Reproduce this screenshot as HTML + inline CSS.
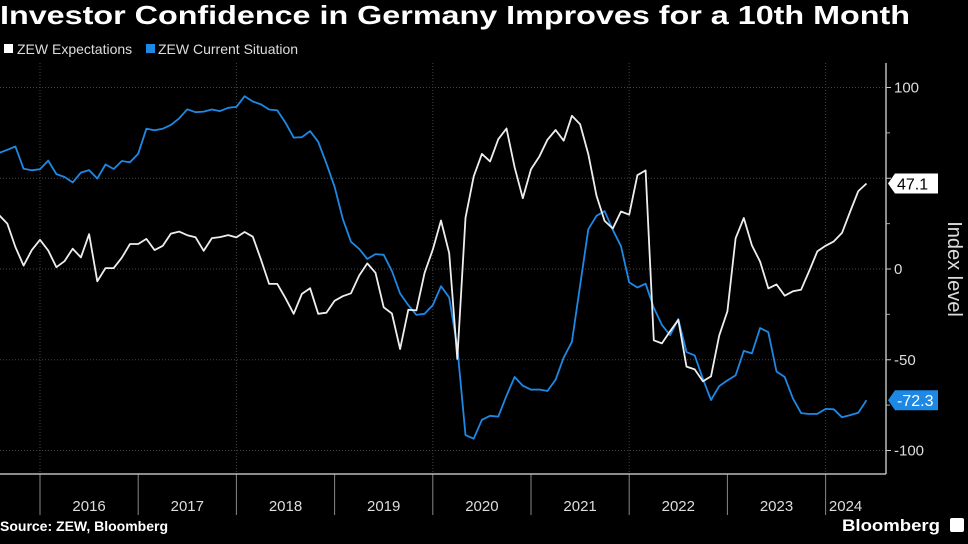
<!DOCTYPE html>
<html><head><meta charset="utf-8"><style>
html,body{margin:0;padding:0;background:#000;}
svg{display:block;font-family:"Liberation Sans",sans-serif;}
</style></head><body>
<svg id="chart" width="968" height="544" viewBox="0 0 968 544" xmlns="http://www.w3.org/2000/svg">
<rect width="968" height="544" fill="#000"/>
<text x="0" y="24" fill="#fff" font-size="26" font-weight="bold" textLength="910" lengthAdjust="spacingAndGlyphs">Investor Confidence in Germany Improves for a 10th Month</text>
<g>
<g><rect x="4" y="44" width="9" height="9" fill="#fff"/><text x="17" y="54" fill="#ddd" font-size="14">ZEW Expectations</text></g>
<g><rect x="146" y="44" width="9" height="9" fill="#1e88e5"/><text x="158" y="54" fill="#ddd" font-size="14">ZEW Current Situation</text></g>
</g>
<g id="grid"></g>
<g id="axes"></g>
<g id="series"></g>
<text x="0" y="531" fill="#fff" font-size="14" font-weight="bold">Source: ZEW, Bloomberg</text>
<text x="842" y="531" fill="#fff" font-size="17" font-weight="bold" textLength="98" lengthAdjust="spacingAndGlyphs">Bloomberg</text>
<rect x="950" y="518" width="14" height="14" rx="2" fill="#fff"/>
<text x="948" y="269" fill="#ddd" font-size="20" transform="rotate(90 948 269)" text-anchor="middle">Index level</text>
</svg>
<script>
const years = [2016,2017,2018,2019,2020,2021,2022,2023,2024];
const yTicks = [100,50,0,-50,-100];
const yMinor = [75,25,-25,-75];
// monthly from Jul 2015 to May 2024
const expectations = [29.7,25.0,12.1,1.9,10.4,16.1,10.2,1.0,4.3,11.2,6.4,19.2,-6.8,0.5,0.5,6.2,13.8,13.8,16.6,10.4,12.8,19.5,20.6,18.6,17.5,10.0,17.0,17.6,18.7,17.4,20.4,17.8,5.1,-8.2,-8.2,-16.1,-24.7,-13.7,-10.6,-24.7,-24.1,-17.5,-15.0,-13.4,-3.6,3.1,-2.1,-21.1,-24.5,-44.1,-22.5,-22.8,-2.1,10.7,26.7,8.7,-49.5,28.2,51.0,63.4,59.3,71.5,77.4,56.1,39.0,55.0,61.8,71.2,76.6,70.7,84.4,79.8,63.3,40.4,26.5,22.3,31.7,29.9,51.7,54.3,-39.3,-41.0,-34.3,-28.0,-53.8,-55.3,-61.9,-59.2,-36.7,-23.3,16.9,28.1,13.0,4.1,-10.7,-8.5,-14.7,-12.3,-11.4,-1.1,9.8,12.8,15.2,19.9,31.7,42.9,47.1];
const currentSituation = [63.9,65.7,67.5,55.2,54.4,55.0,59.7,52.3,50.7,47.7,53.1,54.5,49.8,57.6,55.1,59.5,58.8,63.5,77.3,76.4,77.3,79.4,83.0,88.0,86.4,86.7,87.9,87.0,88.8,89.3,95.2,92.3,90.7,87.9,87.4,80.6,72.4,72.6,76.0,70.1,58.2,45.3,27.6,15.0,11.1,5.5,8.2,7.8,-1.1,-13.5,-19.9,-25.3,-24.7,-19.9,-9.5,-15.7,-43.1,-91.5,-93.5,-83.1,-80.9,-81.3,-69.8,-59.5,-64.3,-66.5,-66.4,-67.2,-61.0,-48.8,-40.1,-9.1,21.9,29.3,31.9,21.6,12.5,-7.4,-10.2,-8.1,-21.4,-30.8,-36.5,-27.6,-45.8,-47.6,-60.5,-72.2,-64.5,-61.4,-58.6,-45.1,-46.5,-32.5,-34.8,-56.5,-59.5,-71.3,-79.4,-79.9,-79.8,-77.1,-77.3,-81.7,-80.5,-79.2,-72.3];
const startMonth = -6; // Jul 2015 relative to Jan 2016
const NS='http://www.w3.org/2000/svg';
const X0=40, YW=98.2, AX=886, TOP=63, BOT=474;
function xMonth(m){return X0+(m+1)*YW/12;}
function xYear(y){return X0+(y-2016)*YW;}
function yv(v){return 269-v*1.815;}
function mk(tag,attrs,parent){const e=document.createElementNS(NS,tag);for(const k in attrs)e.setAttribute(k,attrs[k]);parent.appendChild(e);return e;}
const grid=document.getElementById('grid'),axes=document.getElementById('axes'),series=document.getElementById('series');
yTicks.forEach(v=>{
  const l=mk('line',{x1:0,x2:AX,y1:yv(v),y2:yv(v),stroke:'#444','stroke-dasharray':'1 2'},grid);
  
  
  const t=mk('line',{x1:AX,x2:AX+5,y1:yv(v),y2:yv(v),stroke:'#ccc'},axes);
  
  
  const tx=mk('text',{x:AX+8,y:yv(v)+5,fill:'#ddd','font-size':15},axes);
  tx.textContent=(v<0?'-':'')+Math.abs(v);
  
  
});
yMinor.forEach(v=>{
  const t=mk('line',{x1:AX,x2:AX+4,y1:yv(v),y2:yv(v),stroke:'#aaa'},axes);
  
  
});
years.forEach((y,i)=>{
  const x=xYear(y);
  if(i%2===0){
    const g=mk('line',{x1:x,x2:x,y1:TOP,y2:BOT,stroke:'#444','stroke-dasharray':'1 2'},grid);
    
    
  }
  const t=mk('line',{x1:x,x2:x,y1:BOT,y2:515,stroke:'#888'},axes);
  
  
  const lx = y===2024 ? x+20 : x+YW/2;
  const tx=mk('text',{x:lx,y:511,fill:'#ddd','font-size':15,'text-anchor':'middle'},axes);
  tx.textContent=y;
  
  
});
const xa=mk('line',{x1:0,x2:AX,y1:BOT,y2:BOT,stroke:'#bbb','stroke-width':1.5},axes);


const ya=mk('line',{x1:AX,x2:AX,y1:TOP,y2:BOT,stroke:'#bbb','stroke-width':1.5},axes);


function line(vals,color,name){
  const pts=vals.map((v,i)=>xMonth(startMonth+i).toFixed(1)+','+yv(v).toFixed(1)).join(' ');
  const p=mk('polyline',{points:pts,fill:'none',stroke:color,'stroke-width':1.8,'stroke-linejoin':'round'},series);
  
  
}
line(currentSituation,'#1e88e5','line-current-situation');
line(expectations,'#eeeeee','line-expectations');
function tag(v,bg,fg,name){
  const y=yv(v);
  const g=mk('g',{},axes);
  
  
  mk('path',{d:`M${AX+2} ${y} L${AX+9} ${y-10} H${AX+52} V${y+10} H${AX+9} Z`,fill:bg},g);
  const t=mk('text',{x:AX+11,y:y+6,fill:fg,'font-size':16},g);
  t.textContent=v.toFixed(1);
}
tag(expectations[expectations.length-1],'#fff','#000','last-value-expectations');
tag(currentSituation[currentSituation.length-1],'#1e88e5','#fff','last-value-current-situation');
</script>
</body></html>
